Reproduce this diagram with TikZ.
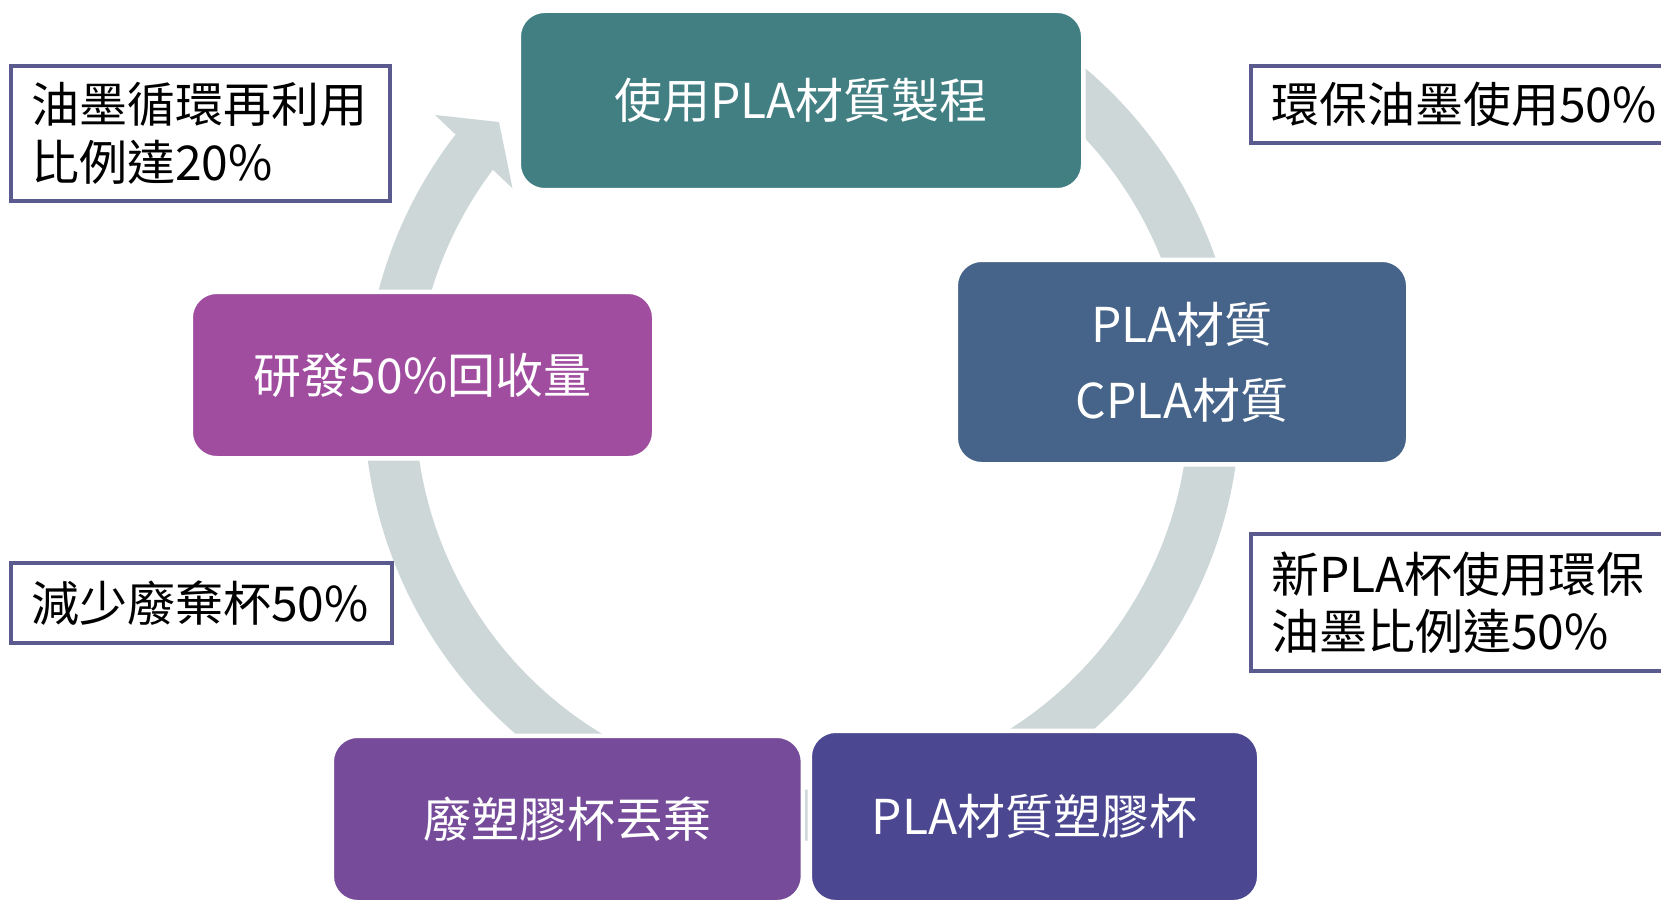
\documentclass[tikz,border=0pt]{standalone}
\usepackage{fontspec}
\setmainfont{Noto Sans CJK TC}
\setlength{\parindent}{0pt}
\usetikzlibrary{calc}
\definecolor{cteal}{HTML}{427F83}
\definecolor{cblue}{HTML}{466489}
\definecolor{cmagenta}{HTML}{A04DA0}
\definecolor{cpurple}{HTML}{764C9A}
\definecolor{cindigo}{HTML}{4B4891}
\definecolor{cring}{HTML}{CDD7D8}
\definecolor{cborder}{HTML}{5A5A8E}
\tikzset{
  block/.style={rounded corners=26pt, draw=white, line width=4.5pt, text=white,
    font=\fontsize{48}{76}\selectfont, align=center, inner sep=0pt},
  note/.style={draw=cborder, line width=3.2pt, fill=white, text=black,
    font=\fontsize{48}{58}\selectfont, align=left, inner xsep=20pt, inner ysep=0pt},
  ringline/.style={draw=cring, line width=51pt},
  ringhead/.style={fill=cring, draw=none}
}
\begin{document}
\begin{tikzpicture}[x=1pt,y=-1pt]
\useasboundingbox (0,0) rectangle (1661,901);
\clip (0,0) rectangle (1661,901);
\fill[white] (0,0) rectangle (1661,901);
% ring
\coordinate (C) at (802,402.5);
\draw[ringline] ($(C)+(-60:412.5)$) arc[start angle=-60, end angle=217.75, radius=412.5];
\coordinate (h1) at (435,115);
\coordinate (h2) at (499,122);
\coordinate (h3) at (512.5,188.3);
\fill[ringhead] (h1) -- (h2) -- (h3) -- cycle;
% blocks
\node[block, fill=cteal, minimum width=564.5pt, minimum height=179.5pt] (n1) at (801,100.5) {使用PLA材質製程};
\node[block, fill=cblue, minimum width=452.5pt, minimum height=204.5pt] (n2) at (1182,362) {PLA材質\\CPLA材質};
\node[block, fill=cindigo, minimum width=449.5pt, minimum height=171.5pt] (n3) at (1034.5,816.5) {PLA材質塑膠杯};
\node[block, fill=cpurple, minimum width=471.2pt, minimum height=166.5pt] (n4) at (567.35,819) {廢塑膠杯丟棄};
\node[block, fill=cmagenta, minimum width=463.5pt, minimum height=166.5pt] (n5) at (422.5,375) {研發50\%回收量};
% notes
\node[note, text width=339pt, minimum height=135pt] (t1) at (200.5,133.5) {油墨循環再利用\\比例達20\%};
\node[note, text width=389pt, minimum height=77pt] (t2) at (1465.5,104.5) {環保油墨使用50\%};
\node[note, text width=389pt, minimum height=137pt, font=\fontsize{48}{57}\selectfont] (t3) at (1465.5,602.5) {新PLA杯使用環保\\油墨比例達50\%};
\node[note, text width=341pt, minimum height=80pt] (t4) at (201.5,603) {減少廢棄杯50\%};
\end{tikzpicture}
\end{document}
